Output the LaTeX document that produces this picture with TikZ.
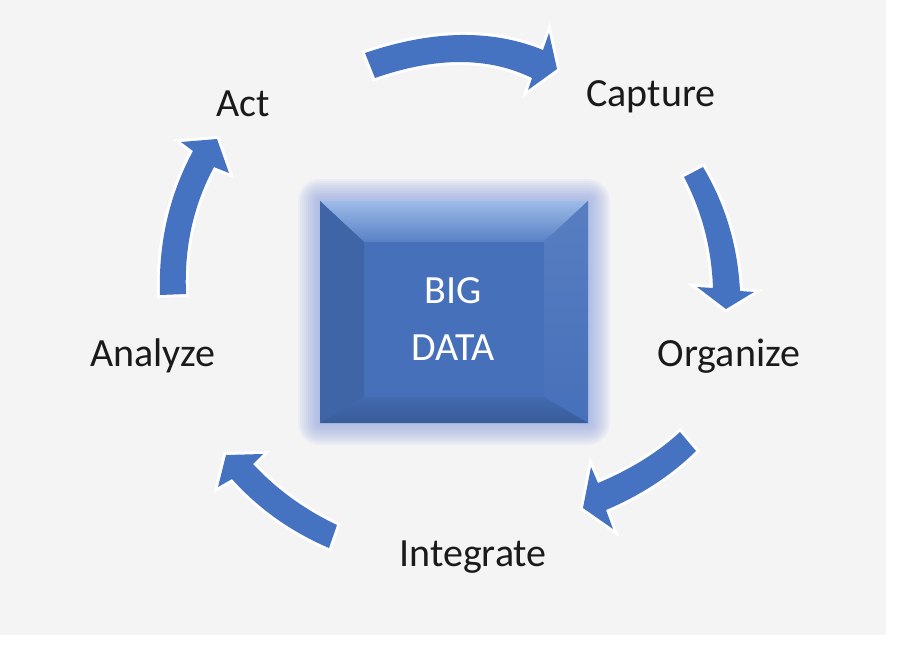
\documentclass[tikz,border=0pt]{standalone}
\usepackage{fontspec}
\setmainfont{Carlito}
\definecolor{bgc}{HTML}{F4F4F4}
\definecolor{arrowblue}{HTML}{4672C2}
\definecolor{glowc}{HTML}{8A9FE0}
\definecolor{faceblue}{HTML}{4670BA}
\definecolor{bevtop}{HTML}{9DBBE8}
\definecolor{bevtopin}{HTML}{5880C4}
\definecolor{txt}{HTML}{1A1A1A}
\begin{document}
\begin{tikzpicture}[x=0.75pt,y=-0.75pt,
  curvearrow/.style={fill=arrowblue, preaction={draw=white, line width=4.5pt, line join=miter, miter limit=6}},
  lbl/.style={anchor=base, inner sep=0pt, text=txt, font=\fontsize{30pt}{36pt}\selectfont},
  boxtext/.style={align=center, text=white, inner sep=0pt, font=\fontsize{30pt}{43pt}\selectfont}]
\useasboundingbox (0,0) rectangle (900,646);
\fill[white] (0,0) rectangle (900,646);
\fill[bgc] (0,0) rectangle (886,635);

% glow around the box
\foreach \g in {2,4,...,22}{
  \fill[glowc, opacity=0.08, rounded corners={\g*0.75pt}] ({320-\g},{201-\g}) rectangle ({588+\g},{423+\g});
}
% box face and bevels
\fill[faceblue] (320,201) rectangle (588,423);
\path[top color=bevtop, bottom color=bevtopin] (320,201) -- (588,201) -- (544,242) -- (364,242) -- cycle;
\fill[faceblue!90!black] (320,201) -- (364,242) -- (364,397) -- (320,423) -- cycle;
\path[top color=faceblue!90!white, bottom color=faceblue] (588,201) -- (544,242) -- (544,397) -- (588,423) -- cycle;
\path[top color=faceblue!95!black, bottom color=faceblue!82!black] (320,423) -- (364,397) -- (544,397) -- (588,423) -- cycle;
\node[boxtext] (bigdata) at (453,319) {BIG\\DATA};

% curved arrows
\path[curvearrow] (365,53) .. controls (432.3,30) and (491.7,29) .. (543,50)
  -- (549,33) -- (557,69) -- (528,90) -- (532,78)
  .. controls (488.3,56.7) and (436,56.7) .. (375,78) -- cycle;
\path[curvearrow] (703,167) .. controls (725.3,204.3) and (737.7,245.7) .. (740,291)
  -- (754,292) -- (726,309) -- (697,287) -- (713,288)
  .. controls (711.6,248.1) and (701.9,211.1) .. (684,177) -- cycle;
\path[curvearrow] (696,451) .. controls (671.3,475.3) and (641.3,495) .. (606,510)
  -- (613,529) -- (583,508) -- (591,467) -- (598,483)
  .. controls (630.7,469.3) and (658,452.3) .. (680,432) -- cycle;
\path[curvearrow] (329,548) .. controls (290.7,531.5) and (258.3,508.5) .. (232,479)
  -- (218,487) -- (226,455) -- (263,454) -- (253,464)
  .. controls (276.6,489.3) and (304.6,509.6) .. (337,525) -- cycle;
\path[curvearrow] (160,295) .. controls (158.3,243) and (169.3,195) .. (193,151)
  -- (181,142) -- (217,139) -- (229,173) -- (214,167)
  .. controls (193.3,205.3) and (184,247.7) .. (186,294) -- cycle;

% labels
\node[lbl] (capture) at (651,106.5) {Capture};
\node[lbl] (organize) at (729,366.5) {Organize};
\node[lbl] (integrate) at (473,566.5) {Integrate};
\node[lbl] (analyze) at (153,366) {Analyze};
\node[lbl] (act) at (243,116) {Act};
\end{tikzpicture}
\end{document}
